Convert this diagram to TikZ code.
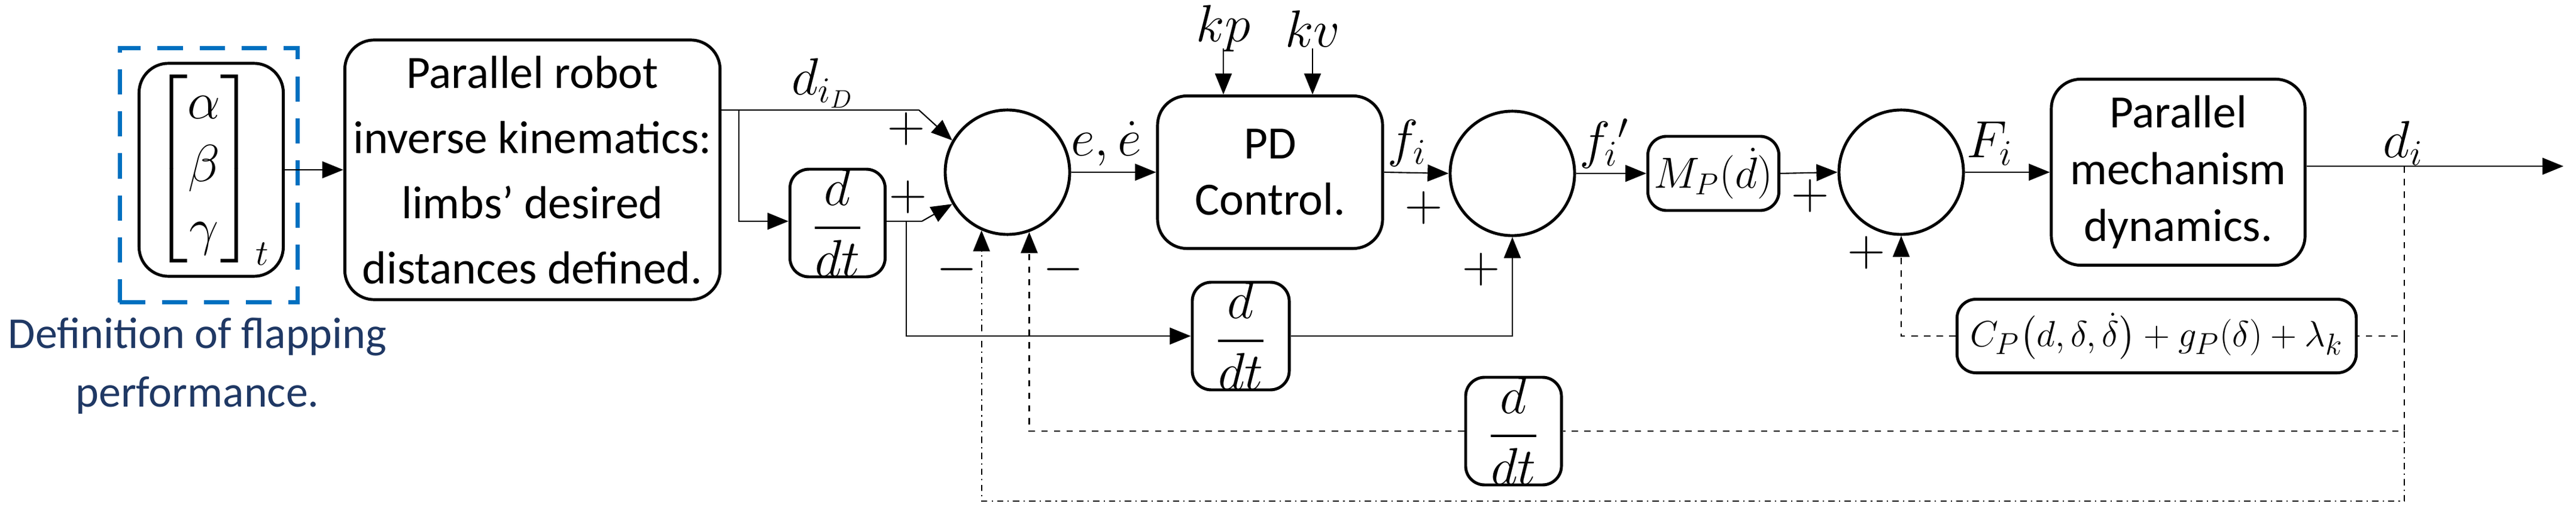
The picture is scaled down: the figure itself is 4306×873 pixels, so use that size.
\documentclass[tikz,border=0pt]{standalone}
\usepackage{amsmath}
\usepackage{fontspec}
\setmainfont{Carlito}
\usetikzlibrary{arrows.meta}
\definecolor{dblue}{RGB}{31,56,100}
\definecolor{lblue}{RGB}{0,112,192}
\begin{document}
\begin{tikzpicture}[x=0.01cm,y=-0.01cm,
  font=\fontsize{22}{27}\selectfont,
  blk/.style={draw,line width=1.4pt,rounded corners=14pt,align=center,inner sep=0pt},
  sum/.style={draw,line width=1.4pt,circle,minimum size=2.08cm,inner sep=0pt},
  ln/.style={line width=0.6pt},
  arr/.style={ln,-{Triangle[length=10pt,width=8pt]}},
  lbl/.style={inner sep=1pt,font=\fontsize{26}{30}\selectfont},
  sg/.style={inner sep=1pt,font=\fontsize{28}{30}\selectfont}]
\useasboundingbox (0,0) rectangle (4306,873);
% blocks
\node[draw=lblue,dashed,line width=2.2pt,dash pattern=on 12pt off 8pt,minimum width=2.97cm,minimum height=4.25cm] (dash) at (349,293) {};
\node[blk,minimum width=2.41cm,minimum height=3.56cm,font=\fontsize{25}{30}\selectfont] (ang) at (353,284) {$\begin{bmatrix}\alpha\\ \beta\\ \gamma\end{bmatrix}_t$};
\node[text=dblue,align=center,font=\fontsize{21}{28}\selectfont] (def) at (330,612) {Definition of flapping\\performance.};
\node[blk,minimum width=6.27cm,minimum height=4.34cm,font=\fontsize{22}{31}\selectfont] (ik) at (890,284) {Parallel robot\\inverse kinematics:\\limbs’ desired\\distances defined.};
\node[blk,minimum width=1.59cm,minimum height=1.78cm,rounded corners=9pt,font=\fontsize{24}{28}\selectfont] (dt1) at (1400,373) {$\dfrac{d}{dt}$};
\node[sum] (s1) at (1684,288) {};
\node[blk,minimum width=3.76cm,minimum height=2.55cm] (pd) at (2123,288) {PD\\Control.};
\node[sum] (s2) at (2528,290) {};
\node[blk,minimum width=2.19cm,minimum height=1.24cm,rounded corners=9pt] (mp) at (2864,290) {$M_P(\dot d)$};
\node[sum] (s3) at (3178,288) {};
\node[blk,minimum width=4.24cm,minimum height=3.11cm] (dyn) at (3641,288) {Parallel\\mechanism\\dynamics.};
\node[blk,minimum width=1.62cm,minimum height=1.78cm,rounded corners=9pt,font=\fontsize{24}{28}\selectfont] (dt2) at (2074,562) {$\dfrac{d}{dt}$};
\node[blk,minimum width=1.60cm,minimum height=1.75cm,rounded corners=9pt,font=\fontsize{24}{28}\selectfont] (dt3) at (2530,721) {$\dfrac{d}{dt}$};
\node[blk,minimum width=6.67cm,minimum height=1.23cm,rounded corners=9pt,font=\fontsize{19}{24}\selectfont] (cp) at (3605,562) {$C_P\bigl(d,\delta,\dot\delta\bigr)+g_P(\delta)+\lambda_k$};
% coordinates
\coordinate (kp) at (2045,81); \coordinate (kv) at (2194,81);
\coordinate (out) at (4285,278);
\coordinate (pd1) at (1536,184); \coordinate (br1) at (1235,184);
\coordinate (pd2) at (1541,370); \coordinate (br2) at (1515,370);
\coordinate (fb) at (4019,278);
% labels
\node[lbl] at (1375,139) {$d_{i_D}$};
\node[lbl] at (1849,240) {$e,\dot e$};
\node[lbl] at (2352,240) {$f_i$};
\node[lbl] at (2682,240) {$f_i{}'$};
\node[lbl] at (3326,240) {$F_i$};
\node[lbl] at (4017,240) {$d_i$};
\node[lbl] at (2045,48) {$kp$};
\node[lbl] at (2194,48) {$kv$};
\node[sg] (pA) at (1515,216) {$+$};
\node[sg] (pB) at (1518,330) {$+$};
\node[sg] (mA) at (1600,451) {$-$};
\node[sg] (mB) at (1778,451) {$-$};
\node[sg] (pC) at (2380,348) {$+$};
\node[sg] (pD) at (2476,451) {$+$};
\node[sg] (pE) at (3026,328) {$+$};
\node[sg] (pF) at (3120,423) {$+$};
% connectors
\draw[arr] (ang.east) -- (ik.west);
\draw[ln] (ik.east |- br1) -- (pd1);
\draw[arr] (pd1) -- (s1.150);
\draw[arr] (br1) |- (dt1.west |- br2);
\draw[ln] (dt1.east |- br2) -- (pd2);
\draw[arr] (pd2) -- (s1.210);
\draw[arr] (br2) |- (dt2.west);
\draw[arr] (dt2.east) -| (s2.south);
\draw[arr] (s1.east) -- (pd.west);
\draw[arr] (kp) -- (kp |- pd.north);
\draw[arr] (kv) -- (kv |- pd.north);
\draw[arr] (pd.east) -- (s2.west);
\draw[arr] (s2.east) -- (mp.west);
\draw[arr] (mp.east) -- (s3.west);
\draw[arr] (s3.east) -- (dyn.west);
\draw[arr] (dyn.east |- out) -- (out);
\draw[ln,dashed] (fb) -- (fb |- cp.east) -- (cp.east);
\draw[arr,dashed] (cp.west) -| (s3.south);
\draw[ln,dashed] (fb |- cp.east) -- (fb |- dt3.east) -- (dt3.east);
\draw[arr,dashed] (dt3.west) -| (s1.-70);
\draw[arr,dash dot] (fb |- dt3.east) -- (4019,838) -| (s1.-114);
\end{tikzpicture}
\end{document}
